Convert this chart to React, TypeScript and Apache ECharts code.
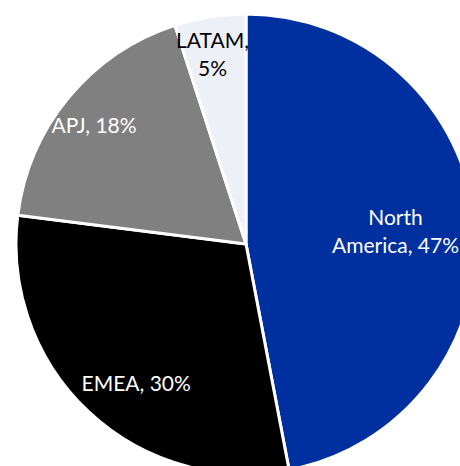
import React, { useEffect, useRef } from "react";
import * as echarts from "echarts";

const regions = ["North\nAmerica", "EMEA", "APJ", "LATAM,\n"];
const shares = [47, 30, 18, 5];
const colors = ["#0030A0", "#000000", "#808080", "#EEF0F8"];
const labelColors = ["#ffffff", "#ffffff", "#ffffff", "#000000"];
const labelOffsets = [[32, -2], [-29, 52], [-61, -44], [-15, -74]];

export default function App() {
  const ref = useRef<HTMLDivElement>(null);
  useEffect(() => {
    const chart = echarts.init(ref.current!, null, { renderer: "svg" });
    chart.setOption({
      animation: false,
      backgroundColor: "#ffffff",
      series: [
        {
          type: "pie",
          center: [246, 244],
          radius: 230,
          startAngle: 90,
          clockwise: true,
          avoidLabelOverlap: false,
          itemStyle: { borderColor: "#ffffff", borderWidth: 3 },
          labelLine: { show: false },
          data: shares.map((v, i) => ({
            value: v,
            name: regions[i],
            itemStyle: { color: colors[i] },
            label: {
              show: true,
              position: "inside",
              color: labelColors[i],
              fontFamily: "Lato",
              fontSize: 21,
              lineHeight: 28,
              offset: labelOffsets[i],
              formatter: (p: any) =>
                p.name.endsWith("\n") ? `${p.name}${p.value}%` : `${p.name}, ${p.value}%`,
            },
          })),
        },
      ],
    });
    return () => chart.dispose();
  }, []);
  return (
    <div
      ref={ref}
      style={{ position: "fixed", left: 0, top: 0, width: 460, height: 466 }}
    />
  );
}
